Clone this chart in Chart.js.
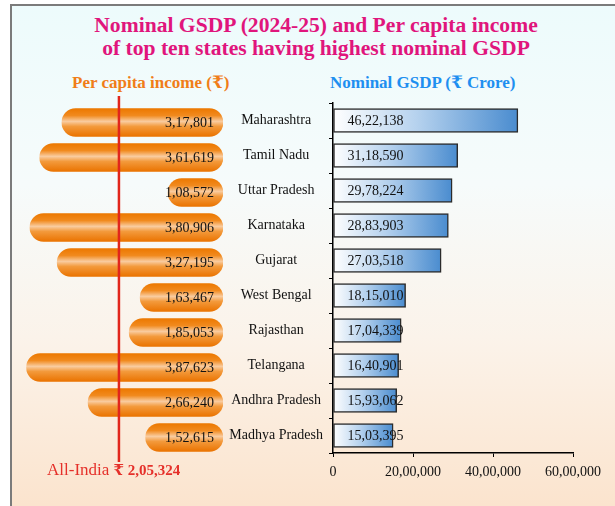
<!DOCTYPE html>
<html>
<head>
<meta charset="utf-8">
<script src="https://cdn.jsdelivr.net/npm/chart.js@4.4.1/dist/chart.umd.min.js"></script>
<style>
  html, body { margin: 0; padding: 0; background: #fff; }
  body { width: 615px; height: 506px; position: relative; overflow: hidden;
         font-family: "Liberation Serif", "DejaVu Serif", serif; }
  #frame { position: absolute; left: 10px; top: 4px; width: 700px; height: 510px;
           border-top: 2px solid #7b7b7b; border-left: 2px solid #7b7b7b;
           background: linear-gradient(to bottom, #edfbfc 0%, #f6fbfb 35%, #fbf3ea 65%, #fbe3cc 100%); }
  .title { position: absolute; left: 0; width: 632px; text-align: center; color: #e0157c;
           font-weight: bold; font-size: 21.6px; line-height: 23px; }
  .sub { position: absolute; font-weight: bold; font-size: 17px; white-space: nowrap; }
  #pcTitle { left: 72px; top: 72px; color: #f07d18; }
  #gsdpTitle { left: 330px; top: 72px; color: #1e8ff0; }
  #allIndia { position: absolute; left: 47px; top: 460px; color: #e5302a; font-size: 17px; white-space: nowrap; }
  #allIndia b { font-size: 15px; }
  canvas { position: absolute; }
  #pcChart { left: 0; top: 95px; }
  #gsdpChart { left: 222px; top: 95px; }
</style>
</head>
<body>
<div id="frame"></div>
<div class="title" style="top:14px">Nominal GSDP (2024-25) and Per capita income</div>
<div class="title" style="top:37px">of top ten states having highest nominal GSDP</div>
<div class="sub" id="pcTitle">Per capita income (₹)</div>
<div class="sub" id="gsdpTitle">Nominal GSDP (₹ Crore)</div>
<canvas id="pcChart" width="223" height="370"></canvas>
<canvas id="gsdpChart" width="393" height="386"></canvas>
<div id="allIndia">All-India <b>₹ 2,05,324</b></div>
<script>
'use strict';

// data
const states = ['Maharashtra', 'Tamil Nadu', 'Uttar Pradesh', 'Karnataka', 'Gujarat',
  'West Bengal', 'Rajasthan', 'Telangana', 'Andhra Pradesh', 'Madhya Pradesh'];
const perCapita = [317801, 361619, 108572, 380906, 327195, 163467, 185053, 387623, 266240, 152615];
const gsdp = [4622138, 3118590, 2978224, 2883903, 2703518, 1815010, 1704339, 1640901, 1593062, 1503395];
const allIndiaPerCapita = 205324;
const gsdpTicks = [0, 2000000, 4000000, 6000000];

Chart.defaults.font.family = '"Liberation Serif", "DejaVu Serif", serif';
Chart.defaults.color = '#111';

// 1234567 -> 12,34,567
const formatIndian = function(n) {
  const s = String(Math.round(n));
  if (s.length <= 3) return s;
  let head = s.slice(0, -3);
  const tail = s.slice(-3);
  head = head.replace(/\B(?=(\d{2})+(?!\d))/g, ',');
  return head + ',' + tail;
};

// value labels next to the bar base
const barLabels = {
  id: 'barLabels',
  afterDatasetsDraw(chart, args, opts) {
    const ctx = chart.ctx;
    const values = chart.data.datasets[0].data;
    ctx.save();
    ctx.font = '14px "Liberation Serif"';
    ctx.fillStyle = '#111';
    ctx.textBaseline = 'middle';
    ctx.textAlign = opts.align;
    chart.getDatasetMeta(0).data.forEach((bar, i) => {
      ctx.fillText(formatIndian(values[i]), bar.base + opts.offset, bar.y + 1);
    });
    ctx.restore();
  }
};

// All-India per capita marker
const allIndiaLine = {
  id: 'allIndiaLine',
  afterDatasetsDraw(chart) {
    const ctx = chart.ctx;
    const x = chart.scales.x.getPixelForValue(allIndiaPerCapita);
    ctx.save();
    ctx.strokeStyle = '#e1261c';
    ctx.lineWidth = 2.5;
    ctx.beginPath();
    ctx.moveTo(x, 1);
    ctx.lineTo(x, chart.height - 3);
    ctx.stroke();
    ctx.restore();
  }
};

const pillColor = function(c) {
  const chart = c.chart;
  if (!chart.chartArea) return '#ef7f08';
  const y = chart.scales.y.getPixelForValue(c.dataIndex);
  const g = chart.ctx.createLinearGradient(0, y - 14, 0, y + 14);
  g.addColorStop(0, '#ec7800');
  g.addColorStop(0.25, '#f18a1e');
  g.addColorStop(0.46, '#f9cca0');
  g.addColorStop(0.64, '#f39a3c');
  g.addColorStop(1, '#ea7300');
  return g;
};

const blueColor = function(c) {
  const chart = c.chart;
  if (!chart.chartArea) return '#6aa3dc';
  const x0 = chart.scales.x.getPixelForValue(0);
  const x1 = chart.scales.x.getPixelForValue(gsdp[c.dataIndex]);
  const g = chart.ctx.createLinearGradient(x0, 0, x1, 0);
  g.addColorStop(0, '#ffffff');
  g.addColorStop(0.45, '#b6d2ee');
  g.addColorStop(1, '#4a8ccf');
  return g;
};

new Chart(document.getElementById('pcChart'), {
  type: 'bar',
  data: {
    labels: states,
    datasets: [{
      data: perCapita,
      backgroundColor: pillColor,
      borderWidth: 0,
      borderRadius: 14,
      borderSkipped: false,
      barThickness: 28
    }]
  },
  options: {
    indexAxis: 'y',
    responsive: false,
    animation: false,
    layout: { padding: { top: 10, bottom: 10, left: 0, right: 0 } },
    scales: {
      x: { type: 'linear', reverse: true, min: 0, max: 440000, display: false },
      y: { display: false }
    },
    plugins: {
      legend: { display: false },
      tooltip: { enabled: false },
      barLabels: { align: 'right', offset: -9 }
    }
  },
  plugins: [allIndiaLine, barLabels]
});

new Chart(document.getElementById('gsdpChart'), {
  type: 'bar',
  data: {
    labels: states,
    datasets: [{
      data: gsdp,
      backgroundColor: blueColor,
      borderColor: '#2b2b2b',
      borderWidth: 1.5,
      borderSkipped: false,
      barThickness: 24
    }]
  },
  options: {
    indexAxis: 'y',
    responsive: false,
    animation: false,
    layout: { padding: { top: 8, right: 42, left: 0, bottom: 0 } },
    scales: {
      x: {
        min: 0, max: 6000000,
        afterBuildTicks: (scale) => { scale.ticks = gsdpTicks.map(v => ({ value: v })); },
        afterFit: (scale) => { scale.height = 28; },
        grid: { drawOnChartArea: false, tickLength: 4, color: '#000' },
        border: { color: '#000', width: 1.5 },
        ticks: { padding: 7, maxRotation: 0, autoSkip: false, font: { size: 14 },
                 color: '#111', callback: (v) => formatIndian(v) }
      },
      y: {
        afterFit: (scale) => {
          scale.width = 111;
          scale.paddingTop = 0;
          scale.paddingBottom = 0;
        },
        grid: { drawOnChartArea: false, tickLength: 4, color: '#000' },
        border: { color: '#000', width: 1.5 },
        ticks: { padding: 6, crossAlign: 'center', font: { size: 14 }, color: '#111' }
      }
    },
    plugins: {
      legend: { display: false },
      tooltip: { enabled: false },
      barLabels: { align: 'left', offset: 14 }
    }
  },
  plugins: [barLabels]
});
</script>
</body>
</html>
